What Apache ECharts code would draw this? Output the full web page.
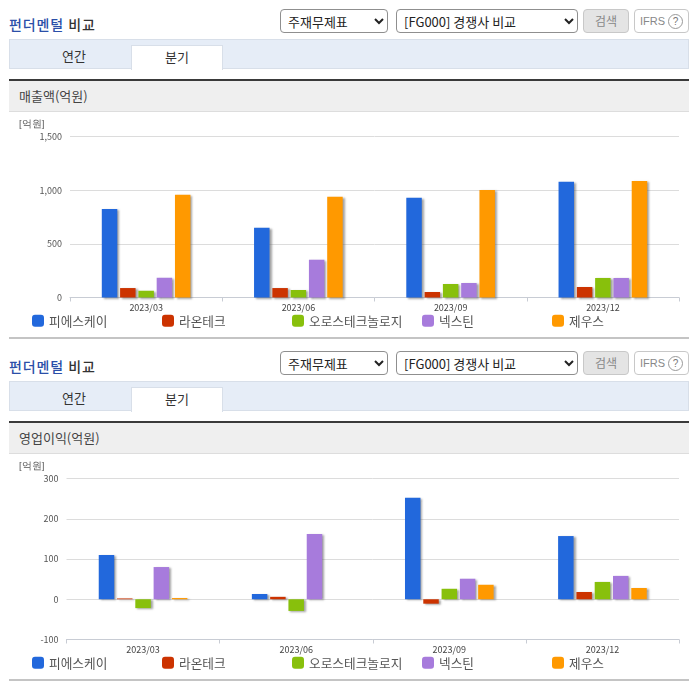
<!DOCTYPE html>
<html>
<head>
<meta charset="utf-8">
<script src="https://cdn.jsdelivr.net/npm/echarts@6/dist/echarts.min.js"></script>
<style>
html, body { margin: 0; padding: 0; background: #fff; }
body { width: 696px; height: 684px; position: relative; overflow: hidden; font-family: "Noto Sans CJK KR", sans-serif; color: #333; }
.panel { position: absolute; left: 0; width: 696px; height: 342px; }
.title { position: absolute; left: 9px; top: 14px; font-size: 14px; line-height: 20px; font-weight: 500; color: #333; letter-spacing: 0.9px; }
.title b { color: #2b4fa8; font-weight: 500; }
select { position: absolute; top: 9px; height: 24px; box-sizing: border-box; background: #fff; border: 1px solid #8f8f8f; border-radius: 4px; font: 13px "Noto Sans CJK KR", sans-serif; color: #222; padding: 0 0 0 3px; margin: 0; }
.s1 { left: 280px; width: 108px; }
.s2 { left: 396px; width: 182px; }
.btn { position: absolute; top: 9px; height: 24px; box-sizing: border-box; border-radius: 4px; font-size: 12px; line-height: 22px; text-align: center; }
.search { left: 583px; width: 46px; background: #e4e4e4; border: 1px solid #c8c8c8; color: #888; }
.ifrs { left: 634px; width: 55px; background: #fff; border: 1px solid #c8c8c8; color: #888; font-family: "Liberation Sans", sans-serif; font-size: 11px; white-space: nowrap; }
.ifrs i { display: inline-block; width: 13px; height: 13px; line-height: 13px; margin-left: 3px; border: 1px solid #999; border-radius: 50%; font-style: normal; font-size: 10px; color: #777; }
.tabs { position: absolute; left: 9px; top: 39px; width: 680px; height: 30px; box-sizing: border-box; background: #e6edf7; border: 1px solid #d8dfe9; }
.tab { position: absolute; top: 5px; height: 25px; width: 92px; box-sizing: border-box; text-align: center; font-size: 13px; line-height: 22px; color: #333; }
.tab.on { left: 121px; background: #fff; border: 1px solid #d8dfe9; border-bottom: 0; }
.tab.off { left: 18px; }
.head { position: absolute; left: 9px; top: 79px; width: 680px; height: 33px; box-sizing: border-box; background: #efefef; border-top: 2px solid #3a3a3a; border-bottom: 1px solid #dddddd; font-size: 13px; line-height: 30px; padding-left: 10px; color: #444; }
.chart { position: absolute; left: 0; top: 112px; width: 696px; height: 224px; }
.rule { position: absolute; left: 9px; top: 337px; width: 680px; height: 2px; background: #c4c4c4; }
</style>
</head>
<body>
<div class="panel" style="top:0">
  <div class="title"><b>펀더멘털</b> 비교</div>
  <select class="s1"><option>주재무제표</option></select>
  <select class="s2"><option>[FG000] 경쟁사 비교</option></select>
  <div class="btn search">검색</div>
  <div class="btn ifrs">IFRS<i>?</i></div>
  <div class="tabs"><div class="tab off">연간</div><div class="tab on">분기</div></div>
  <div class="head">매출액(억원)</div>
  <div class="chart" id="chartSales"></div>
  <div class="rule"></div>
</div>
<div class="panel" style="top:342px">
  <div class="title"><b>펀더멘털</b> 비교</div>
  <select class="s1"><option>주재무제표</option></select>
  <select class="s2"><option>[FG000] 경쟁사 비교</option></select>
  <div class="btn search">검색</div>
  <div class="btn ifrs">IFRS<i>?</i></div>
  <div class="tabs"><div class="tab off">연간</div><div class="tab on">분기</div></div>
  <div class="head">영업이익(억원)</div>
  <div class="chart" id="chartProfit"></div>
  <div class="rule"></div>
</div>
<script>
var quarters = ['2023/03', '2023/06', '2023/09', '2023/12'];
var companies = ['피에스케이', '라온테크', '오로스테크놀로지', '넥스틴', '제우스'];
var colors = ['#2268dc', '#cc3300', '#88c00c', '#a77bdc', '#ff9900'];

// 매출액
var sales1 = [825, 650, 930, 1079];
var sales2 = [88, 88, 51, 98];
var sales3 = [63, 70, 126, 182];
var sales4 = [184, 352, 135, 182];
var sales5 = [958, 939, 1001, 1085];

// 영업이익
var profit1 = [110, 13, 252, 157];
var profit2 = [2, 6, -11, 18];
var profit3 = [-22, -29, 26, 43];
var profit4 = [80, 162, 51, 58];
var profit5 = [3, 0, 36, 28];

var legendLefts = [32, 162, 292, 422, 552];

function makeOption(rows, yMin, yMax, yStep, gridLeft, gridTop, gridHeight) {
  return {
    animation: false,
    textStyle: { fontFamily: '"Noto Sans CJK KR", sans-serif' },
    grid: { left: gridLeft, right: 17, top: gridTop, height: gridHeight },
    legend: companies.map(function (name, i) {
      return {
        data: [name], left: legendLefts[i], top: gridTop + gridHeight + 17,
        icon: 'roundRect', itemWidth: 12, itemHeight: 12, itemGap: 5,
        padding: 0, textStyle: { fontSize: 12.7, color: '#555' }
      };
    }),
    graphic: [{
      type: 'text', left: 19, top: gridTop - 17,
      style: { text: '[억원]', fontSize: 9.5, fill: '#555' }
    }],
    xAxis: {
      type: 'category', data: quarters,
      axisLine: { onZero: false, lineStyle: { color: '#c8ccd4' } },
      axisTick: { show: true, length: 4, lineStyle: { color: '#c8ccd4' } },
      axisLabel: { fontSize: 9, color: '#444', margin: 6 }
    },
    yAxis: {
      type: 'value', min: yMin, max: yMax, interval: yStep,
      axisLine: { show: false }, axisTick: { show: false },
      axisLabel: {
        fontSize: 9, color: '#555', margin: 8,
        formatter: function (v) { return v.toLocaleString('en-US'); }
      },
      splitLine: { lineStyle: { color: '#dcdcdc' } }
    },
    series: companies.map(function (name, i) {
      return {
        name: name, type: 'bar', data: rows[i],
        barWidth: 15.5, barGap: '18%',
        itemStyle: {
          color: colors[i],
          shadowColor: 'rgba(90,90,90,0.55)', shadowBlur: 2, shadowOffsetX: 2, shadowOffsetY: 1
        }
      };
    })
  };
}

echarts.init(document.getElementById('chartSales')).setOption(
  makeOption([sales1, sales2, sales3, sales4, sales5], 0, 1500, 500, 70, 24.5, 161)
);
echarts.init(document.getElementById('chartProfit')).setOption(
  makeOption([profit1, profit2, profit3, profit4, profit5], -100, 300, 100, 66.5, 24.5, 161)
);
</script>
</body>
</html>
